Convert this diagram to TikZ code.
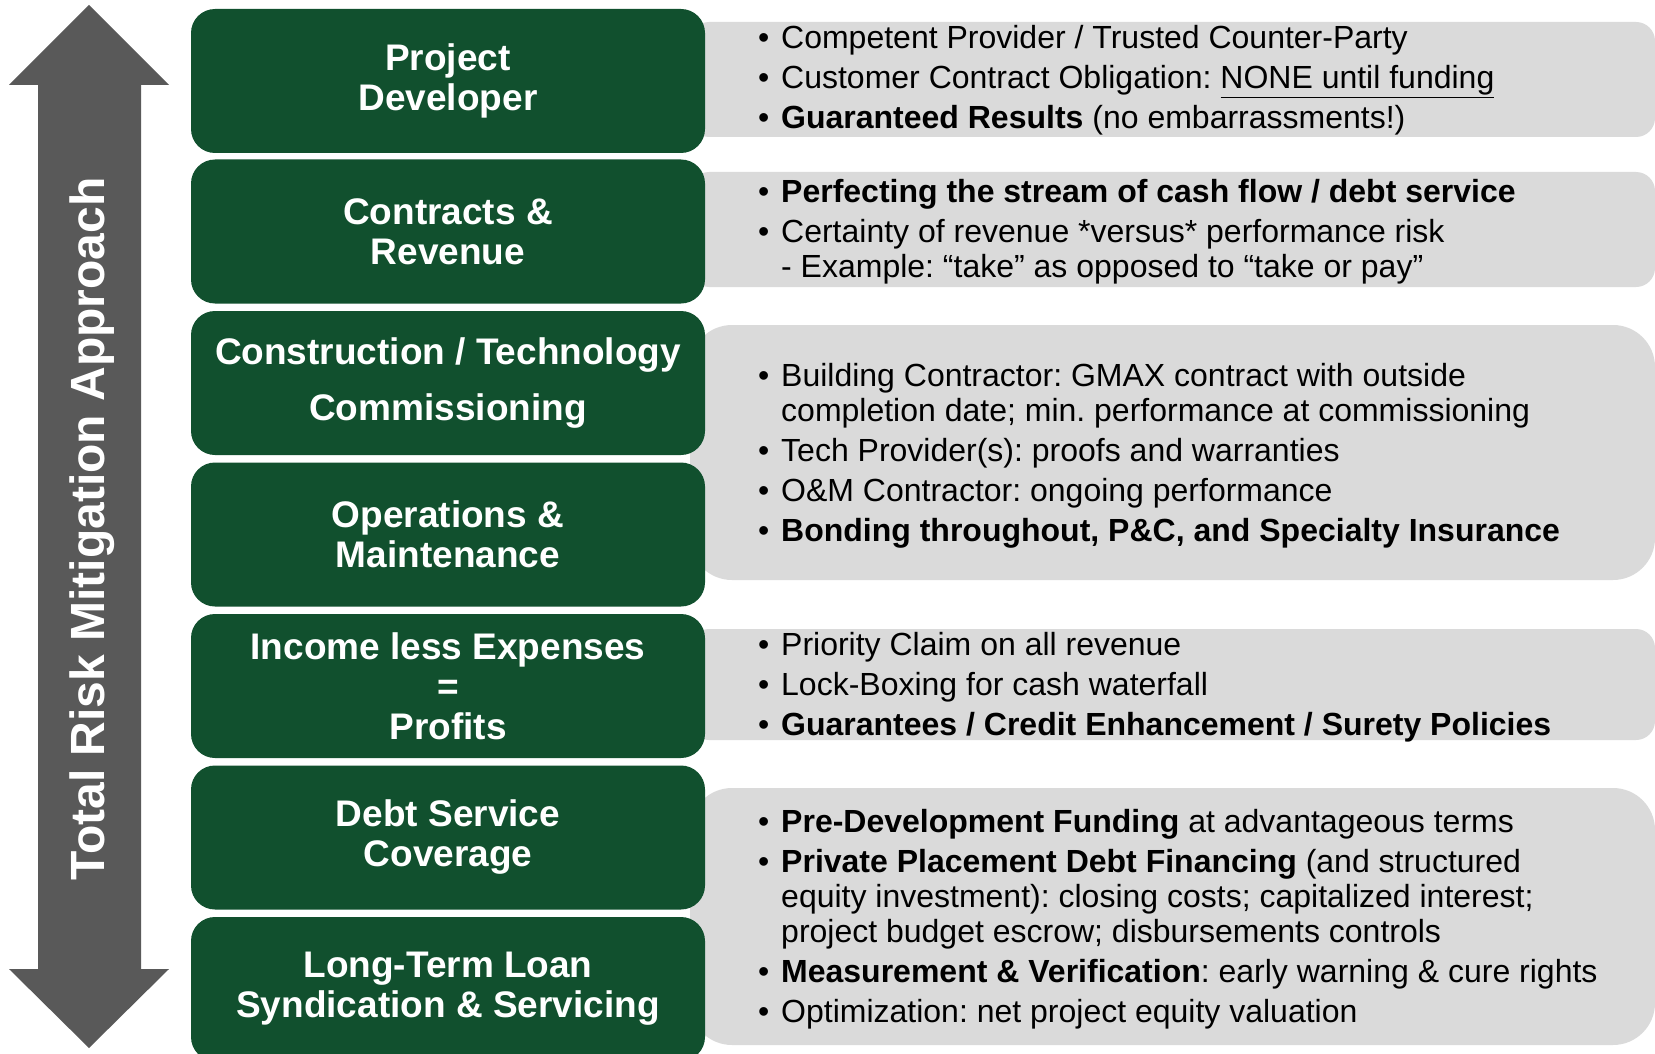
\documentclass[tikz,border=0pt]{standalone}
\usepackage{fontspec}
\setmainfont{Liberation Sans}
\frenchspacing
\definecolor{boxgreen}{RGB}{17,80,46}
\definecolor{panelgray}{RGB}{218,218,218}
\definecolor{arrowgray}{RGB}{89,89,89}
\newcommand{\bul}{\makebox[23pt][l]{•}}
\newcommand{\ind}{\hspace*{23pt}}

\begin{document}
\begin{tikzpicture}
  [x=1pt,y=-1pt,
   greenbox/.style={rectangle,rounded corners=24pt,fill=boxgreen,text=white,
     minimum width=514pt,minimum height=144pt,inner sep=0pt,align=center,
     font=\fontsize{37}{40}\selectfont\bfseries},
   panel/.style={fill=panelgray,rounded corners=#1},
   note/.style={anchor=base west,inner sep=0pt,font=\fontsize{32}{35}\selectfont}]
  \useasboundingbox (0,0) rectangle (1655,1054);

  % gray panels behind the boxes
  \fill[panel=19pt] (690,22) rectangle (1655,137);
  \fill[panel=19pt] (690,172) rectangle (1655,287);
  \fill[panel=42pt] (690,325) rectangle (1655,580);
  \fill[panel=19pt] (690,629) rectangle (1655,740);
  \fill[panel=42pt] (690,788) rectangle (1655,1045);

  % double arrow on the left
  \fill[arrowgray] (89,5) -- (169,85) -- (141,85) -- (141,969) -- (169,969) -- (89,1048)
    -- (9,969) -- (38,969) -- (38,85) -- (9,85) -- cycle;
  \node[rotate=90,text=white,inner sep=0pt,font=\fontsize{48}{50}\selectfont\bfseries]
    (title) at (92,529) {Total Risk Mitigation Approach};

  \node[greenbox] (dev) at (448,81) {Project\\Developer};
  \node[greenbox] (rev) at (448,231.5) {Contracts \&\\Revenue};
  \node[greenbox] (tech) at (448,383) {Construction / Technology\\[16pt]Commissioning};
  \node[greenbox] (om) at (448,534.5) {Operations \&\\Maintenance};
  \node[greenbox] (profit) at (448,686) {Income less Expenses\\=\\Profits};
  \node[greenbox] (debt) at (448,837.5) {Debt Service\\Coverage};
  \node[greenbox] (loan) at (448,989) {Long-Term Loan\\Syndication \& Servicing};

  \node[note] (devnote) at (758,49) {\parbox[t]{880pt}{%
    \bul Competent Provider / Trusted Counter-Party\\[5pt]
    \bul Customer Contract Obligation: \underline{NONE until funding}\\[5pt]
    \bul \textbf{Guaranteed Results} (no embarrassments!)}};
  \node[note] (revnote) at (758,202.5) {\parbox[t]{880pt}{%
    \bul \textbf{Perfecting the stream of cash flow / debt service}\\[5pt]
    \bul Certainty of revenue *versus* performance risk\\
    \ind - Example: “take” as opposed to “take or pay”}};
  \node[note] (technote) at (758,386) {\parbox[t]{880pt}{%
    \bul Building Contractor: GMAX contract with outside\\
    \ind completion date; min. performance at commissioning\\[5pt]
    \bul Tech Provider(s): proofs and warranties\\[5pt]
    \bul O\&M Contractor: ongoing performance\\[5pt]
    \bul \textbf{Bonding throughout, P\&C, and Specialty Insurance}}};
  \node[note] (profitnote) at (758,655) {\parbox[t]{880pt}{%
    \bul Priority Claim on all revenue\\[5pt]
    \bul Lock-Boxing for cash waterfall\\[5pt]
    \bul \textbf{Guarantees / Credit Enhancement / Surety Policies}}};
  \node[note] (loannote) at (758,832.6) {\parbox[t]{880pt}{%
    \bul \textbf{Pre-Development Funding} at advantageous terms\\[5pt]
    \bul \textbf{Private Placement Debt Financing} (and structured\\
    \ind equity investment): closing costs; capitalized interest;\\
    \ind project budget escrow; disbursements controls\\[5pt]
    \bul \textbf{Measurement \& Verification}: early warning \& cure rights\\[5pt]
    \bul Optimization: net project equity valuation}};
\end{tikzpicture}
\end{document}
